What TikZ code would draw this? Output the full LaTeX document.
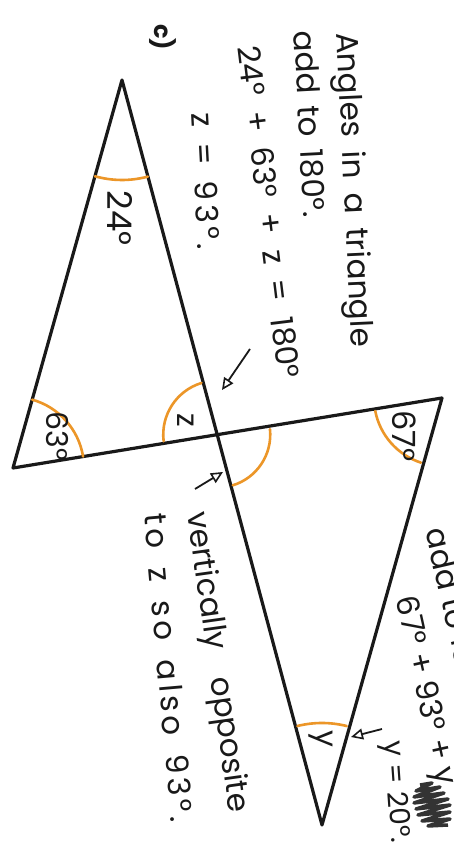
\documentclass[tikz,border=0pt]{standalone}
\usepackage{fontspec}
\setmainfont{Poppins}
\newfontfamily\widehand[LetterSpace=12]{Poppins}
\usetikzlibrary{arrows.meta}
\definecolor{arcorange}{RGB}{236,150,40}
\definecolor{ink}{RGB}{25,25,25}
\newcommand{\spread}[2]{\makebox[#1][s]{#2}}
\tikzset{
  edge/.style={line width=3.2pt, draw=ink, line join=round, line cap=round},
  anglearc/.style={line width=2.6pt, draw=arcorange, line cap=round},
  hand/.style={font=\fontsize{31}{33}\selectfont, text=ink, inner sep=0pt},
  widetext/.style={font=\widehand\fontsize{31}{33}\selectfont},
  lbl/.style={font=\fontsize{34}{36}\selectfont, text=ink, inner sep=0pt, rotate=-90},
  pointer/.style={line width=1.8pt, draw=ink, -{Triangle[open, length=12pt, width=11pt, line width=1.6pt]}},
}
\begin{document}
\begin{tikzpicture}[x=1pt, y=1pt]
\useasboundingbox (0,0) rectangle (453,843);
\clip (0,0) rectangle (453,843);
\fill[white] (0,0) rectangle (453,843);

% vertices
\coordinate (A) at (122,763);
\coordinate (B) at (13,375);
\coordinate (C) at (442,445);
\coordinate (D) at (322,18);
\coordinate (X) at (intersection of A--D and B--C);

% triangles
\draw[edge] (B) -- (A) -- (D) -- (C) -- (B) -- cycle;

% angle arcs
\draw[anglearc] ([shift={(-105.7:100)}]A) arc[start angle=-105.7, end angle=-75, radius=100];
\draw[anglearc] ([shift={(9.3:71)}]B) arc[start angle=9.3, end angle=74.3, radius=71];
\draw[anglearc] ([shift={(107:54)}]X) arc[start angle=107, end angle=187, radius=54];
\draw[anglearc] ([shift={(-73:53)}]X) arc[start angle=-73, end angle=6, radius=53];
\draw[anglearc] ([shift={(191:68)}]C) arc[start angle=191, end angle=252, radius=68];
\draw[anglearc] ([shift={(76:102)}]D) arc[start angle=76, end angle=104, radius=102];

% angle labels
\node[lbl] (l24) at (120,625) {24°};
\node[lbl, font=\fontsize{30}{32}\selectfont] (l63) at (57,407) {63°};
\node[lbl, font=\fontsize{30}{32}\selectfont] (lz) at (186,423) {z};
\node[lbl, font=\fontsize{32}{34}\selectfont] (l67) at (404,407) {67°};
\node[lbl, font=\fontsize{30}{32}\selectfont] (ly) at (321,104) {y};
\node[lbl, font=\bfseries\fontsize{24}{26}\selectfont] (lc) at (163,806) {c)};

% top annotation
\node[hand, rotate=-87.3] (t1) at (352,653) {\spread{315pt}{Angles in a triangle}};
\node[hand, rotate=-87] (t2) at (310,719) {\spread{187pt}{add to 180°.}};
\node[hand, rotate=-83] (t3) at (269,631) {\spread{335pt}{24° + 63° + z = 180°}};
\node[hand, widetext, rotate=-87] (t4) at (206,662) {\spread{137pt}{z = 93°.}};

% bottom annotation
\node[hand, rotate=-82] (b1) at (216,181) {\spread{303pt}{vertically opposite}};
\node[hand, widetext, rotate=-85] (b2) at (169,175) {\spread{310pt}{to z so also 93°.}};

% right annotation (cut off at the edge)
\node[hand, rotate=-77, anchor=west] (r1) at (436,315) {add to 180°};
\node[hand, rotate=-77.5, anchor=west] (r2) at (403,246) {67° + 93° + y};
\node[hand, font=\fontsize{28}{30}\selectfont, rotate=-86, anchor=west] (r3) at (391,102) {y = 20°.};

% pointers
\coordinate (p1s) at (250,494);
\coordinate (p1e) at (222,453);
\coordinate (p2s) at (195,354);
\coordinate (p2e) at (223,371);
\coordinate (p3s) at (382,114);
\coordinate (p3e) at (351,106);
\draw[pointer] (p1s) -- (p1e);
\draw[pointer] (p2s) -- (p2e);
\draw[pointer] (p3s) -- (p3e);

% scribble
\draw[line width=3.5pt, draw=black!80, line join=round]
  (420,58) -- (432,60) -- (416,52) -- (440,56) -- (414,46) -- (444,50)
  -- (414,40) -- (448,44) -- (416,34) -- (450,38) -- (418,28) -- (450,31)
  -- (422,22) -- (450,24) -- (428,17) -- (448,18);
\end{tikzpicture}
\end{document}
